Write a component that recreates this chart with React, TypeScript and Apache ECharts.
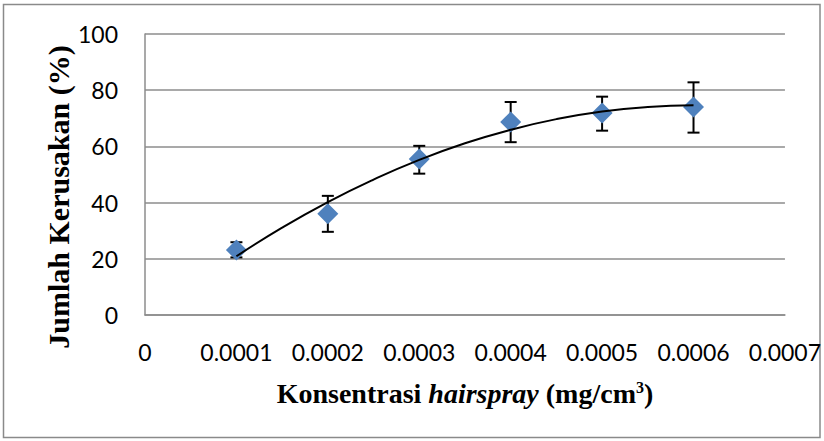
import React, { useEffect, useRef } from "react";
import * as echarts from "echarts";

const concentrations = [0.0001, 0.0002, 0.0003, 0.0004, 0.0005, 0.0006];
const damage = [23.1, 36.0, 55.5, 68.7, 71.9, 74.0];
const errLow = [20.5, 29.6, 50.3, 61.5, 65.6, 64.9];
const errHigh = [25.9, 42.4, 60.2, 75.8, 77.7, 82.8];
const trendX = [0.0001, 0.00015, 0.0002, 0.00025, 0.0003, 0.00035, 0.0004, 0.00045, 0.0005, 0.00055, 0.0006];
const trendY = [20.9, 31.1, 40.2, 48.2, 55.2, 61.1, 65.9, 69.7, 72.4, 74.0, 74.6];
const yTitle = "Jumlah Kerusakan (%)";

const LABEL_FONT = "Lato, 'Open Sans', sans-serif";
const TITLE_FONT = "'Liberation Serif', 'Times New Roman', serif";
const GRID_COLOR = "#8c8c8c";

export default function App() {
  const ref = useRef<HTMLDivElement>(null);
  useEffect(() => {
    if (!ref.current) return;
    const chart = echarts.init(ref.current, undefined, { renderer: "svg" });
    const scatterData = concentrations.map((x, i) => [x, damage[i]]);
    const errData = concentrations.map((x, i) => [x, errLow[i], errHigh[i]]);
    const trendData = trendX.map((x, i) => [x, trendY[i]]);
    chart.setOption({
      animation: false,
      backgroundColor: "#ffffff",
      grid: { left: 145, top: 34, right: 39, bottom: 126, containLabel: false },
      graphic: [
        {
          type: "rect",
          shape: { x: 3.5, y: 4.5, width: 816.5, height: 433 },
          style: { fill: "none", stroke: "#8a8a8a", lineWidth: 1.5 },
          silent: true,
          z: -1,
        },
        {
          type: "text",
          x: 58,
          y: 197,
          rotation: Math.PI / 2,
          style: {
            text: yTitle,
            fontFamily: TITLE_FONT,
            fontWeight: "bold",
            fontSize: 30,
            fill: "#000",
            align: "center",
            verticalAlign: "middle",
          },
          silent: true,
        },
      ],
      xAxis: {
        type: "value",
        min: 0,
        max: 0.0007,
        interval: 0.0001,
        name: "{b|Konsentrasi }{i|hairspray}{b| (mg/cm}{s|3}{b|)}",
        nameLocation: "middle",
        nameGap: 64,
        nameTextStyle: {
          rich: {
            b: { fontFamily: TITLE_FONT, fontWeight: "bold", fontSize: 28, color: "#000" },
            i: { fontFamily: TITLE_FONT, fontWeight: "bold", fontStyle: "italic", fontSize: 28, color: "#000" },
            s: { fontFamily: TITLE_FONT, fontWeight: "bold", fontSize: 16, color: "#000", verticalAlign: "top", padding: [0, 0, 10, 0] },
          },
        },
        axisLine: { show: true, lineStyle: { color: GRID_COLOR, width: 1.5 } },
        axisTick: { show: false },
        splitLine: { show: false },
        axisLabel: {
          fontFamily: LABEL_FONT,
          fontSize: 23,
          color: "#000",
          margin: 25,
          showMinLabel: true,
          showMaxLabel: true,
          formatter: (v: number) => (v === 0 ? "0" : v.toFixed(4)),
        },
      },
      yAxis: {
        type: "value",
        min: 0,
        max: 100,
        interval: 20,
        axisLine: { show: true, lineStyle: { color: GRID_COLOR, width: 1.5 } },
        axisTick: { show: false },
        splitLine: { show: true, lineStyle: { color: GRID_COLOR, width: 1.5 } },
        axisLabel: { fontFamily: LABEL_FONT, fontSize: 23, color: "#000", margin: 27 },
      },
      series: [
        {
          type: "custom",
          name: "error",
          data: errData,
          z: 1,
          renderItem: (params: any, api: any) => {
            const x = api.value(0);
            const lo = api.coord([x, api.value(1)]);
            const hi = api.coord([x, api.value(2)]);
            const cap = 6;
            const style = { stroke: "#000", lineWidth: 2 };
            return {
              type: "group",
              children: [
                { type: "line", shape: { x1: lo[0], y1: lo[1], x2: hi[0], y2: hi[1] }, style },
                { type: "line", shape: { x1: lo[0] - cap, y1: lo[1], x2: lo[0] + cap, y2: lo[1] }, style },
                { type: "line", shape: { x1: hi[0] - cap, y1: hi[1], x2: hi[0] + cap, y2: hi[1] }, style },
              ],
            };
          },
        },
        {
          type: "scatter",
          name: "data",
          data: scatterData,
          symbol: "diamond",
          symbolSize: 21,
          itemStyle: { color: "#4f81bd", opacity: 1 },
          z: 2,
        },
        {
          type: "line",
          name: "trend",
          data: trendData,
          smooth: true,
          showSymbol: false,
          symbol: "none",
          lineStyle: { color: "#000", width: 2 },
          z: 3,
        },
      ],
    });
    return () => chart.dispose();
  }, []);
  return (
    <div
      ref={ref}
      style={{ position: "fixed", left: 0, top: 0, width: 824, height: 441, background: "#fff" }}
    />
  );
}
